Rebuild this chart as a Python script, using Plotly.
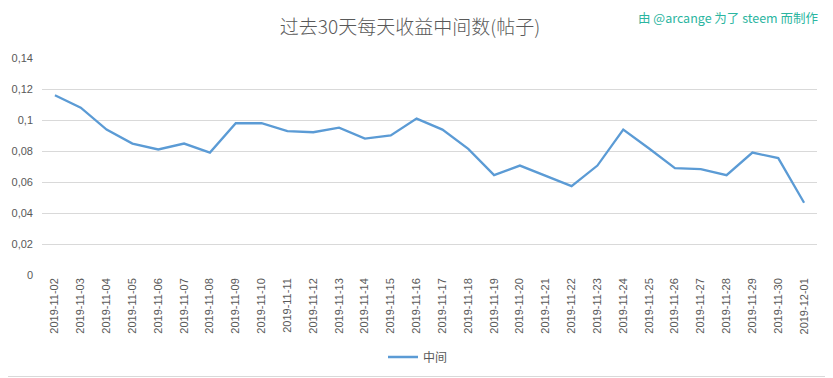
import plotly.graph_objects as go

dates = ["2019-11-02","2019-11-03","2019-11-04","2019-11-05","2019-11-06","2019-11-07","2019-11-08",
         "2019-11-09","2019-11-10","2019-11-11","2019-11-12","2019-11-13","2019-11-14","2019-11-15",
         "2019-11-16","2019-11-17","2019-11-18","2019-11-19","2019-11-20","2019-11-21","2019-11-22",
         "2019-11-23","2019-11-24","2019-11-25","2019-11-26","2019-11-27","2019-11-28","2019-11-29",
         "2019-11-30","2019-12-01"]
median_values = [0.116,0.108,0.0938,0.0848,0.081,0.0848,0.079,0.0979,0.0979,0.0928,0.0921,0.0951,
                 0.088,0.090,0.1009,0.0938,0.0814,0.0644,0.0706,0.0638,0.0573,0.0706,0.0938,0.0816,
                 0.0689,0.0683,0.0644,0.079,0.0754,0.0466]
y_ticks = [0, 0.02, 0.04, 0.06, 0.08, 0.1, 0.12, 0.14]
y_tick_labels = ["0", "0,02", "0,04", "0,06", "0,08", "0,1", "0,12", "0,14"]

# page body has an 8px default margin; figure is sized/positioned to compensate
OFF = 8
W, H = 833 - OFF, 378 - OFF
ml, mr, mt, mb = 42 - OFF, 16, 58 - OFF, 103
pw, ph = W - ml - mr, H - mt - mb

fig = go.Figure()
fig.add_trace(go.Scatter(x=dates, y=median_values, mode="lines", name="中间",
                         line=dict(color="#5b9bd5", width=2.3)))

fig.update_layout(
    width=W, height=H,
    margin=dict(l=ml, r=mr, t=mt, b=mb, pad=0, autoexpand=False),
    paper_bgcolor="white", plot_bgcolor="white",
    font=dict(family="Noto Sans CJK SC, Noto Sans, sans-serif", color="#595959", size=11),
    title=dict(text="过去30天每天收益中间数(帖子)", x=(410 - OFF) / W, xanchor="center",
               y=1 - (27 - OFF) / H, yanchor="middle",
               font=dict(size=19, color="#595959", weight=300)),
    showlegend=True,
    legend=dict(orientation="h", x=(418 - 42) / pw, xanchor="center", y=-82 / ph, yanchor="middle",
                font=dict(size=12, color="#595959"), itemwidth=30),
    xaxis=dict(type="category", tickangle=-90, showgrid=False, showline=False, ticks="",
               tickfont=dict(family="Liberation Sans, Arial, sans-serif", size=11, color="#595959"),
               range=[-0.5, len(dates) - 0.5], fixedrange=True, automargin=False),
    yaxis=dict(range=[0, 0.14], tickvals=y_ticks, ticktext=y_tick_labels, showgrid=True,
               gridcolor="#d9d9d9", gridwidth=1, zeroline=False, showline=False, ticks="",
               tickfont=dict(family="Liberation Sans, Arial, sans-serif", size=11, color="#595959"),
               ticklabelstandoff=8, fixedrange=True, automargin=False),
    annotations=[dict(text="由 @arcange 为了 steem 而制作", xref="paper", yref="paper",
                      x=(820 - 42) / pw, y=(H - (17 - OFF) - mb) / ph, xanchor="right", yanchor="middle",
                      showarrow=False, font=dict(size=12.5, color="#2bb5a0"))],
    shapes=[
        dict(type="line", xref="paper", yref="paper",
             x0=1 + (mr - 1.5) / pw, x1=1 + (mr - 1.5) / pw,
             y0=-(mb - 1) / ph, y1=1 + mt / ph,
             line=dict(color="#d9d9d9", width=1), layer="below"),
        dict(type="line", xref="paper", yref="paper",
             x0=-ml / pw, x1=1 + mr / pw,
             y0=-(mb - 1.5) / ph, y1=-(mb - 1.5) / ph,
             line=dict(color="#d9d9d9", width=1), layer="below"),
    ],
)

fig.write_html("out.html")
